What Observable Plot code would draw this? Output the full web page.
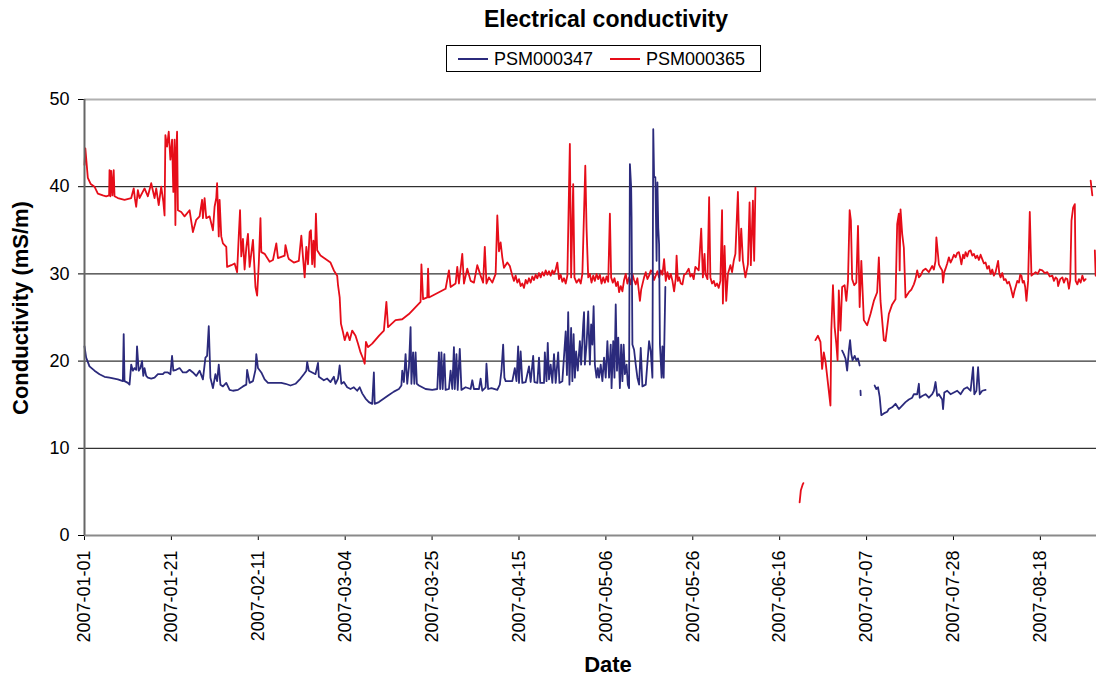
<!DOCTYPE html>
<html>
<head>
<meta charset="utf-8">
<script src="https://cdn.jsdelivr.net/npm/d3@7"></script>
<script src="https://cdn.jsdelivr.net/npm/@observablehq/plot@0.6"></script>
<style>
  body { margin: 0; background: #fff; font-family: "Liberation Sans", Arial, sans-serif; }
  #wrap { position: relative; width: 1096px; height: 678px; overflow: hidden; background: #fff; }
  #title { position: absolute; left: 406px; width: 400px; top: 6px; text-align: center; font-weight: bold; font-size: 23px; color: #000; }
  #legend { position: absolute; left: 446px; top: 45px; width: 313px; height: 25px; border: 1px solid #000; background: #fff; }
  .sw { position: absolute; top: 12px; width: 30px; height: 2px; }
  .lt { position: absolute; top: 2px; font-size: 18px; line-height: 22px; color: #000; }
  #ylab { position: absolute; left: 21px; top: 308px; transform: translate(-50%, -50%) rotate(-90deg); font-weight: bold; font-size: 22px; white-space: nowrap; }
  #xlab { position: absolute; left: 608px; top: 665px; transform: translate(-50%, -50%); font-weight: bold; font-size: 22px; }
  #plot { position: absolute; left: 0; top: 80px; }
</style>
</head>
<body>
<div id="wrap">
  <div id="title">Electrical conductivity</div>
  <div id="legend"></div>
  <div id="plot"></div>
  <div id="ylab">Conductivity (mS/m)</div>
  <div id="xlab">Date</div>
</div>
<script>
// ---- data (day offset from 2007-01-01, conductivity mS/m); null = gap ----
const seriesNames = ["PSM000347", "PSM000365"];
const seriesColors = ["#2b2a7c", "#e60d19"];
const yTicks = [0, 10, 20, 30, 40, 50];
const xTickLabels = ["2007-01-01","2007-01-21","2007-02-11","2007-03-04","2007-03-25","2007-04-15",
                     "2007-05-06","2007-05-26","2007-06-16","2007-07-07","2007-07-28","2007-08-18"];
const tickStepDays = 20.84;     // spreadsheet major unit
const axisEndDay = 242.7;

const psm000347 = [
 [0,21.7],[0.4,20.4],[1.2,19.4],[2.4,18.9],[3.6,18.5],[4.8,18.2],[6.0,18.1],[8.0,17.9],[9.2,17.7],[9.4,23.1],[9.6,17.7],
 [10.4,17.5],[10.8,17.3],[11.2,19.6],[11.6,18.9],[12.0,19.2],[12.4,19.0],[12.6,21.7],[13.0,18.9],[13.4,19.2],[13.8,20.0],
 [14.1,18.3],[14.4,19.2],[14.8,18.3],[15.2,18.1],[16.0,18.0],[16.8,18.1],[17.6,18.5],[18.8,18.5],[19.2,18.7],[20.0,18.7],
 [20.6,18.5],[21.0,20.6],[21.3,18.9],[22.0,19.0],[22.8,19.2],[23.6,18.7],[24.4,18.7],[25.2,19.0],[26.0,18.7],[26.8,18.3],
 [27.6,18.9],[28.4,17.9],[29.0,20.4],[29.4,20.6],[29.8,24.0],[30.2,18.1],[30.8,16.9],[31.4,18.5],[31.8,17.7],[32.2,19.6],
 [32.6,17.3],[33.2,17.1],[34.0,17.5],[34.8,16.7],[35.6,16.6],[36.8,16.7],[38.0,17.1],[38.8,17.3],[39.0,19.0],[39.6,17.5],
 [40.4,17.7],[41.0,19.0],[41.2,20.8],[41.6,19.2],[42.4,18.7],[43.2,17.9],[44.0,17.5],[45.6,17.5],[47.2,17.5],[48.2,17.4],
 [49.4,17.2],[50.6,17.4],[51.8,18.0],[52.6,18.5],[53.2,18.9],[53.4,19.9],[53.8,18.9],[54.6,18.7],[55.4,18.5],[56.0,19.8],
 [56.2,18.2],[57.4,17.8],[58.2,18.0],[59.0,17.6],[59.8,18.2],[60.2,17.4],[60.8,18.0],[61.2,19.5],[61.6,17.4],[62.2,17.6],
 [63.0,17.0],[63.8,16.8],[64.6,17.0],[65.4,16.6],[66.0,17.0],[66.6,16.3],[67.4,15.7],[68.2,15.3],[69.0,15.1],[69.4,18.7],
 [69.6,15.1],[70.6,15.3],[71.8,15.7],[73.0,16.1],[74.2,16.5],[75.4,16.8],[76.0,17.2],[76.2,18.9],[76.6,17.6],[77.0,20.8],
 [77.4,17.4],[77.8,19.3],[78.2,23.9],[78.4,17.4],[78.8,21.0],[79.1,17.4],[79.4,21.0],[79.7,17.4],[80.2,17.2],[81.0,17.0],
 [81.8,16.8],[83.4,16.7],[84.6,16.8],[85.0,21.0],[85.3,16.8],[85.6,21.0],[85.9,16.8],[86.3,20.8],[86.6,16.7],[87.4,16.8],
 [87.8,18.9],[88.2,16.8],[88.6,21.6],[88.8,16.8],[89.2,20.8],[89.5,16.7],[90.0,21.4],[90.4,16.7],[91.4,17.0],[92.6,16.8],
 [93.0,17.8],[93.4,16.8],[94.6,16.8],[95.0,18.0],[95.4,16.6],[96.2,17.0],[96.4,19.7],[96.8,16.8],[97.6,16.9],[99.0,16.7],
 [99.6,17.3],[100.0,18.9],[100.4,21.9],[100.7,18.1],[101.0,17.7],[102.6,17.7],[103.2,19.2],[103.6,17.7],[104.0,21.7],[104.2,17.5],
 [104.6,21.1],[105.0,17.5],[105.8,17.6],[106.6,19.4],[107.0,17.6],[107.6,20.6],[107.9,17.6],[108.6,17.5],[109.0,20.4],[109.3,17.5],
 [110.2,17.5],[110.4,21.0],[110.8,17.7],[111.1,22.1],[111.4,17.9],[111.8,19.6],[112.2,17.5],[112.6,20.8],[113.0,17.5],[113.6,21.0],
 [113.9,17.5],[114.6,17.7],[115.4,23.4],[115.7,18.4],[116.0,25.6],[116.3,17.3],[116.7,23.8],[117.0,17.7],[117.3,23.1],[117.6,18.1],
 [117.9,21.1],[118.3,18.9],[118.8,22.3],[119.1,19.6],[119.6,24.2],[119.8,25.6],[120.0,19.6],[120.4,21.9],[120.8,25.7],[121.2,19.6],
 [121.5,24.2],[121.8,21.9],[122.1,26.3],[122.4,19.6],[122.8,18.1],[123.1,19.2],[123.4,18.1],[123.8,19.6],[124.2,17.7],[124.6,20.4],
 [125.0,18.1],[125.4,22.3],[125.8,18.1],[126.2,21.9],[126.4,16.9],[126.8,22.3],[127.1,18.1],[127.4,26.5],[127.7,18.9],[128.0,22.7],
 [128.4,16.9],[128.7,21.9],[129.0,17.7],[129.3,21.9],[129.6,18.5],[130.0,19.6],[130.3,17.3],[130.6,16.9],[130.8,42.6],[131.1,39.9],
 [131.2,36.5],[131.4,21.9],[131.8,21.3],[132.2,19.6],[132.6,18.1],[133.0,17.3],[133.4,21.5],[133.8,17.1],[134.6,17.3],[135.4,22.3],
 [135.8,21.1],[136.2,18.1],[136.4,46.6],[136.6,41.1],[136.9,41.1],[137.2,31.5],[137.4,40.5],[137.6,35.3],[137.8,33.4],[138.0,21.9],
 [138.4,18.1],[138.6,21.7],[138.9,18.1],[139.3,28.5],[139.5,null],
 [181.7,21.2],[182.1,20.8],[182.5,20.3],[182.9,18.9],[183.3,21.2],[183.6,22.4],[183.9,20.8],[184.2,20.1],[184.7,20.6],[185.1,20.1],
 [185.5,20.3],[185.9,19.5],[186.0,null],[186.1,16.6],[186.15,16.1],[186.3,null],
 [189.5,17.2],[189.9,16.8],[190.3,17.0],[190.7,15.9],[191.1,13.8],[191.7,14.0],[192.5,14.2],[192.9,14.5],[193.7,14.7],[194.5,15.1],
 [195.3,14.5],[196.1,14.9],[196.9,15.3],[197.7,15.6],[198.5,15.8],[198.9,16.2],[199.7,16.2],[200.1,17.4],[200.3,15.8],[200.9,16.0],
 [201.7,16.2],[202.5,15.8],[203.3,16.2],[203.7,16.6],[204.1,17.6],[204.5,16.0],[204.9,16.2],[205.7,15.6],[205.9,14.5],[206.2,16.4],
 [206.9,16.6],[207.7,16.2],[208.5,16.4],[209.3,16.6],[210.1,16.2],[210.9,16.8],[211.7,17.0],[212.5,16.6],[213.1,19.3],[213.4,16.2],
 [213.9,16.6],[214.3,19.3],[214.7,16.2],[215.3,16.6],[216.1,16.7]
];

const psm000365 = [
 [0,42.5],[0.2,44.4],[0.8,41.0],[1.5,40.3],[2.4,40.0],[3.2,39.2],[4.4,39.0],[5.2,38.9],[5.9,39.0],[6.0,41.9],[6.2,38.9],
 [6.4,41.8],[6.7,39.0],[7.0,41.9],[7.2,38.9],[8.0,38.7],[9.6,38.5],[11.2,38.7],[11.8,39.8],[12.1,38.6],[12.4,37.7],[12.8,39.6],
 [13.2,38.7],[14.4,39.8],[15.2,38.9],[16.0,40.4],[16.8,38.7],[17.2,39.8],[17.8,37.9],[18.4,40.0],[18.9,38.3],[19.2,36.7],
 [19.4,45.9],[19.8,44.6],[20.2,46.3],[20.6,43.1],[21.0,45.4],[21.3,39.4],[21.6,45.4],[21.8,35.6],[22.0,43.8],[22.2,46.3],
 [22.4,37.3],[23.2,37.1],[24.0,36.6],[25.2,37.3],[26.0,34.8],[26.8,36.2],[27.6,36.6],[28.2,38.5],[28.4,36.4],[28.8,38.7],
 [29.2,36.4],[30.0,36.6],[30.8,35.0],[31.2,37.7],[31.6,38.7],[31.8,40.4],[32.2,34.3],[32.4,38.5],[32.8,34.3],[33.2,33.5],
 [34.0,33.1],[34.2,30.8],[35.2,31.0],[36.0,31.2],[36.6,30.2],[37.0,34.4],[37.3,37.3],[37.6,32.0],[38.0,34.0],[38.4,30.5],
 [38.8,33.0],[39.2,34.6],[39.6,30.8],[40.4,33.9],[41.0,28.5],[41.4,27.5],[41.8,31.2],[42.2,36.4],[42.4,32.5],[43.2,32.3],
 [44.4,31.4],[45.2,31.6],[46.0,33.5],[46.4,31.8],[48.0,32.1],[48.2,33.3],[48.8,32.0],[49.0,31.7],[50.2,31.3],[51.4,31.5],
 [52.0,34.4],[52.4,31.9],[52.8,29.6],[53.2,33.1],[53.6,31.1],[54.0,34.8],[54.3,35.0],[54.6,31.1],[54.9,33.8],[55.2,30.8],
 [55.5,36.9],[55.8,32.7],[56.6,32.1],[57.8,31.7],[59.0,31.3],[59.8,30.4],[60.6,29.8],[60.8,28.7],[61.2,27.3],[61.5,24.3],
 [62.0,23.3],[62.4,22.4],[63.0,23.3],[63.6,22.4],[64.2,23.5],[65.0,22.9],[65.6,22.0],[66.2,21.0],[66.8,20.3],[67.2,19.7],
 [67.5,22.2],[68.0,21.6],[69.0,22.0],[70.6,22.9],[71.8,23.5],[72.4,26.8],[72.8,23.9],[74.6,24.7],[76.2,24.8],[77.8,25.4],
 [79.4,26.2],[80.6,26.8],[80.8,31.1],[81.2,27.1],[82.2,27.3],[82.4,30.6],[82.6,27.3],[83.4,27.5],[85.0,27.9],[86.6,28.3],
 [87.4,30.4],[87.8,28.5],[89.0,28.9],[89.4,30.8],[89.8,28.9],[90.6,32.3],[91.0,28.9],[91.8,30.6],[92.6,29.2],[93.4,29.0],
 [94.2,31.0],[95.0,29.8],[95.6,29.0],[96.0,33.1],[96.4,28.9],[97.0,29.6],[97.8,29.0],[98.6,30.0],[99.0,36.7],[99.4,32.6],
 [99.8,33.6],[100.2,31.9],[100.6,30.7],[101.4,31.3],[102.0,30.9],
 [102.6,29.8],[103.0,29.2],[103.4,29.8],[103.8,29.0],[104.2,29.4],[104.6,28.6],[105.0,28.9],[105.4,28.4],[105.8,29.3],[106.2,28.9],
 [106.6,29.5],[107.0,29.0],[107.4,29.7],[107.8,29.3],[108.2,29.9],[108.6,29.5],[109.0,30.1],[109.4,29.6],[109.8,30.2],[110.2,29.8],
 [110.6,30.4],[111.0,29.9],[111.4,30.3],[111.8,29.8],[112.2,30.4],[112.6,30.0],[113.0,30.5],[113.4,31.3],[113.8,29.4],[114.2,29.9],
 [114.6,29.1],[115.0,29.5],[115.4,28.9],[115.8,29.8],[116.4,44.9],[116.7,29.6],
 [117.2,40.3],[117.5,29.6],[118.0,29.0],[118.6,29.4],[119.0,28.9],[119.4,30.0],[120.1,42.4],[120.4,35.3],
 [120.8,29.6],[121.2,30.0],[121.6,29.0],[122.0,29.8],[122.4,29.2],[122.8,30.0],[123.2,29.4],[123.6,29.9],[124.0,28.9],[124.4,29.6],
 [124.8,29.0],[125.2,29.7],[125.6,29.1],[126.0,36.9],[126.3,29.6],[126.7,29.0],[127.1,29.5],[127.5,28.6],[127.9,29.1],[128.2,27.9],
 [128.6,28.6],[129.0,28.0],[129.4,29.3],[129.8,30.0],[130.2,28.9],[130.6,29.6],[131.0,28.8],[131.4,30.0],[131.8,29.3],[132.2,28.8],
 [132.6,29.5],[133.2,26.9],[133.5,28.2],[133.8,28.8],[134.2,29.6],[134.6,30.2],[135.0,29.4],[135.4,29.8],[135.8,30.4],[136.2,30.2],
 [136.6,29.3],[137.0,29.8],[137.4,30.3],[137.8,29.6],[138.2,30.4],[138.6,29.9],[139.0,31.7],[139.4,29.2],[139.8,30.2],[140.2,29.4],
 [140.6,30.0],[141.0,29.2],[141.4,28.0],[141.8,29.5],[142.0,32.1],[142.3,29.2],[142.6,29.6],[143.0,28.9],[143.4,28.8],[143.8,29.9],
 [144.2,30.0],[144.9,30.6],[145.3,29.7],[145.7,30.0],[146.1,29.4],[146.5,30.8],[147.3,30.4],[147.9,35.2],
 [148.3,29.6],[148.7,32.3],[148.9,30.0],[149.4,29.4],[149.8,38.8],[150.1,29.6],[150.5,28.9],[150.9,29.2],[151.3,28.6],[151.7,28.9],[152.1,28.4],[152.5,29.2],[152.9,37.3],
 [153.1,26.6],[153.5,33.2],[153.9,26.9],[154.3,30.0],[154.9,31.0],[155.3,30.2],[155.7,31.5],[156.1,32.3],[156.7,39.4],[157.1,31.5],[157.5,35.2],
 [157.9,31.5],[158.5,29.6],[159.1,31.1],[159.5,38.2],[159.8,31.0],[160.3,38.4],[160.6,31.5],[160.9,39.9],[161.2,null],
 [171.5,3.8],[171.8,5.2],[172.2,5.8],[172.4,6.0],[172.6,null],
 [175.3,22.4],[175.9,22.9],[176.5,22.2],[176.9,19.1],[177.3,21.0],[177.7,20.0],[178.9,14.9],[179.1,23.5],[179.5,28.7],[179.9,23.9],
 [180.3,22.0],[180.6,20.1],[180.9,28.1],[181.3,23.5],[181.7,28.5],[182.3,28.7],[182.7,26.9],[183.1,29.2],[183.5,37.3],[183.8,36.1],
 [184.1,29.4],[184.6,28.7],[185.1,29.0],[185.5,35.5],[185.9,26.2],[186.3,31.5],[186.9,24.7],[187.7,24.1],[188.5,25.4],[189.3,26.9],
 [190.1,27.9],[190.5,31.9],[190.9,26.9],[191.7,22.4],[192.1,22.3],[192.9,25.4],[193.7,26.5],[194.5,27.1],[194.9,35.7],[195.3,36.9],
 [195.5,30.4],[195.7,37.4],[196.1,34.6],[196.5,33.0],[196.9,27.3],[197.7,27.9],[198.3,28.2],[198.9,28.8],[199.3,29.4],[199.7,30.4],[200.1,29.6],[200.5,29.8],[201.1,30.4],[201.7,30.6],
 [202.5,30.2],[203.3,30.9],[203.7,30.5],[204.1,31.5],[204.3,34.2],[204.9,31.1],
 [205.3,30.7],[205.7,30.4],[205.9,29.0],[206.2,30.2],[206.5,30.6],[206.9,31.2],[207.3,31.9],[207.7,31.3],[208.1,31.7],[208.5,32.2],
 [208.9,31.9],[209.3,32.4],[209.7,32.5],[210.0,31.9],[210.3,31.1],[210.7,32.2],[211.0,31.8],[211.3,32.5],[211.7,32.0],[212.1,32.6],
 [212.5,32.7],[212.9,32.1],[213.3,32.3],[213.7,31.8],[214.1,32.1],[214.5,31.6],[214.9,32.2],[215.3,31.7],[215.7,31.2],[216.1,31.3],
 [216.5,30.6],[216.9,30.9],[217.3,30.0],[217.7,30.5],[218.1,29.8],[218.5,30.2],[219.1,31.5],[219.4,30.0],[219.7,29.6],[220.1,30.1],
 [220.5,29.3],[220.9,29.4],[221.3,28.9],[221.7,29.1],[222.1,28.5],[222.7,27.3],[223.0,28.0],[223.3,28.5],[223.7,29.2],[224.1,29.0],
 [224.4,29.9],[224.7,29.8],[225.0,29.0],[225.3,29.2],[225.6,28.5],[225.9,26.9],[226.3,29.2],[226.7,37.1],[227.1,29.8],[227.6,30.0],
 [228.1,30.2],[228.6,30.0],[229.1,30.5],[229.7,30.4],[230.3,30.1],[230.9,30.2],[231.5,29.7],[232.1,29.8],[232.5,29.2],[232.9,29.6],
 [233.3,29.4],[233.5,28.6],[234.0,29.4],[234.5,29.6],[234.9,29.0],[235.3,29.5],[235.7,29.4],[236.1,28.3],[236.4,29.3],[236.7,36.1],
 [237.1,37.6],[237.5,38.0],[237.7,29.2],[238.1,28.8],[238.5,29.4],[238.9,29.0],[239.3,29.8],[239.7,29.2],[240.1,29.4],[240.5,null],
 [241.3,40.7],[241.7,39.0],[241.9,null],[242.3,32.7],[242.5,29.8]
];

// ---- build ----
const DAY = 864e5;
const t0 = Date.UTC(2007, 0, 1);
const toDate = d => new Date(t0 + d * DAY);
const rows = [];
[psm000347, psm000365].forEach((arr, si) => {
  arr.forEach(([d, v]) => rows.push({series: seriesNames[si], date: toDate(d), value: v}));
});
const xTicks = xTickLabels.map((_, i) => toDate(i * tickStepDays));
const labelMap = new Map(xTicks.map((t, i) => [+t, xTickLabels[i]]));

// legend
const legend = document.getElementById("legend");
const swX = [11, 163], txX = [47, 199];
seriesNames.forEach((name, i) => {
  const s = document.createElement("div");
  s.className = "sw"; s.style.left = swX[i] + "px"; s.style.background = seriesColors[i];
  const t = document.createElement("div");
  t.className = "lt"; t.style.left = txX[i] + "px"; t.textContent = name;
  legend.append(s, t);
});

const chart = Plot.plot({
  width: 1096,
  height: 598,
  marginLeft: 84,
  marginRight: 0,
  marginTop: 19,
  marginBottom: 143,
  style: {fontFamily: "'Liberation Sans', Arial, sans-serif", fontSize: "18px", color: "#000", background: "#fff", overflow: "visible"},
  x: {type: "utc", domain: [toDate(0), toDate(axisEndDay)], ticks: xTicks, tickFormat: d => labelMap.get(+d),
      tickRotate: -90, tickSize: 5, tickPadding: 10, label: null},
  y: {domain: [0, 50], ticks: yTicks, tickSize: 6, tickPadding: 9, label: null},
  color: {domain: seriesNames, range: seriesColors},
  marks: [
    Plot.ruleY(yTicks.filter(v => v > 0 && v < 50), {stroke: "#000", strokeWidth: 1}),
    Plot.ruleY([50], {stroke: "#b0b0b0", strokeWidth: 2}),
    Plot.line(rows.filter(r => r.series === seriesNames[1]), {x: "date", y: "value", stroke: seriesColors[1], strokeWidth: 1.8}),
    Plot.line(rows.filter(r => r.series === seriesNames[0]), {x: "date", y: "value", stroke: seriesColors[0], strokeWidth: 1.8}),
    Plot.ruleY([0], {stroke: "#8a8a8a", strokeWidth: 2}),
    Plot.ruleX([toDate(0)], {stroke: "#666", strokeWidth: 2})
  ]
});
document.getElementById("plot").append(chart);
</script>
</body>
</html>
